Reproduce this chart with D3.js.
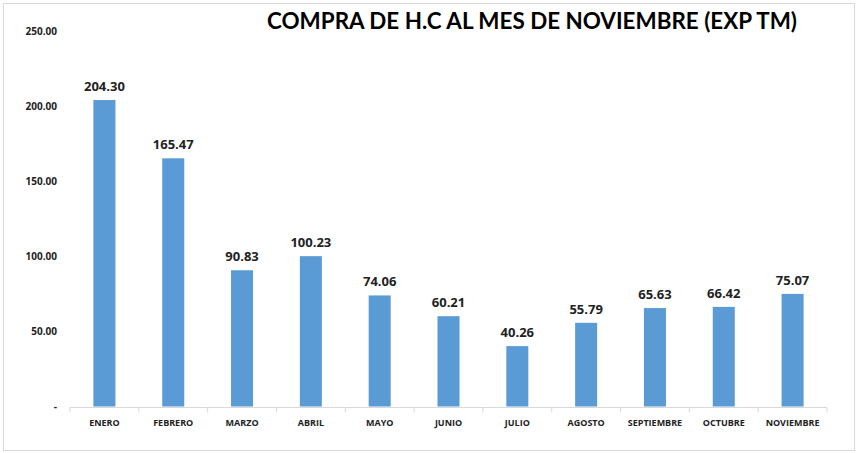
<!DOCTYPE html>
<html><head><meta charset="utf-8">
<script src="https://cdn.jsdelivr.net/npm/d3@7"></script>
<style>body{margin:0;background:#fff}svg{display:block}</style>
</head><body>
<script>
const categories = ["ENERO","FEBRERO","MARZO","ABRIL","MAYO","JUNIO","JULIO","AGOSTO","SEPTIEMBRE","OCTUBRE","NOVIEMBRE"];
const values = [204.30,165.47,90.83,100.23,74.06,60.21,40.26,55.79,65.63,66.42,75.07];
const yTicks = [0,50,100,150,200,250];
const title = "COMPRA DE H.C AL MES DE NOVIEMBRE (EXP TM)";

const W = 858, H = 453;
const svg = d3.select("body").append("svg").attr("width", W).attr("height", H);
svg.append("rect").attr("x",3.5).attr("y",3.5).attr("width",851).attr("height",447)
  .attr("fill","#fff").attr("stroke","#d9d9d9").attr("stroke-width",1);

const x = d3.scaleBand().domain(categories).range([70, 827]).paddingInner(0.68).paddingOuter(0.34);
const y = d3.scaleLinear().domain([0,250]).range([406.5, 31.5]);

svg.append("text").attr("x", 532).attr("y", 29).attr("text-anchor","middle")
  .attr("font-family","Lato, 'Noto Sans', sans-serif").attr("font-weight","bold")
  .attr("font-size", 22).attr("textLength", 530).attr("lengthAdjust","spacingAndGlyphs")
  .attr("fill","#000").text(title);

// y axis labels
const yAxis = d3.axisLeft(y).tickValues(yTicks).tickSize(0).tickPadding(0)
  .tickFormat(d => d === 0 ? "-" : d3.format(".2f")(d));
const ya = svg.append("g").attr("transform","translate(57,0)").call(yAxis);
ya.select(".domain").remove();
ya.selectAll("text").attr("font-family","'Open Sans', 'Noto Sans', sans-serif").attr("font-weight","bold")
  .attr("font-size",10).attr("fill","#222");

// bars
svg.append("g").selectAll("rect").data(values).join("rect")
  .attr("x",(d,i)=>x(categories[i])).attr("width",x.bandwidth())
  .attr("y",d=>y(d)).attr("height",d=>y(0)-y(d)).attr("fill","#5B9BD5");

// x axis
const xAxisG = svg.append("g").attr("transform",`translate(0,${y(0)+1})`);
xAxisG.append("line").attr("x1",70).attr("x2",827).attr("stroke","#d9d9d9");
const bounds = d3.range(categories.length+1).map(i => 70 + i*(757/categories.length));
xAxisG.selectAll("line.t").data(bounds).join("line").attr("class","t")
  .attr("x1",d=>d).attr("x2",d=>d).attr("y1",0).attr("y2",5).attr("stroke","#d9d9d9");
xAxisG.selectAll("text").data(categories).join("text")
  .attr("x",d=>x(d)+x.bandwidth()/2).attr("y",18).attr("text-anchor","middle")
  .attr("font-family","'Open Sans', 'Noto Sans', sans-serif").attr("font-weight","bold")
  .attr("font-size",9).attr("fill","#222").text(d=>d);

// data labels
svg.append("g").selectAll("text").data(values).join("text")
  .attr("x",(d,i)=>x(categories[i])+x.bandwidth()/2).attr("y",d=>y(d)-9)
  .attr("text-anchor","middle").attr("font-family","'Open Sans', 'Noto Sans', sans-serif")
  .attr("font-weight","bold").attr("font-size",13).attr("fill","#222")
  .text(d=>d3.format(".2f")(d));
</script>
</body></html>
